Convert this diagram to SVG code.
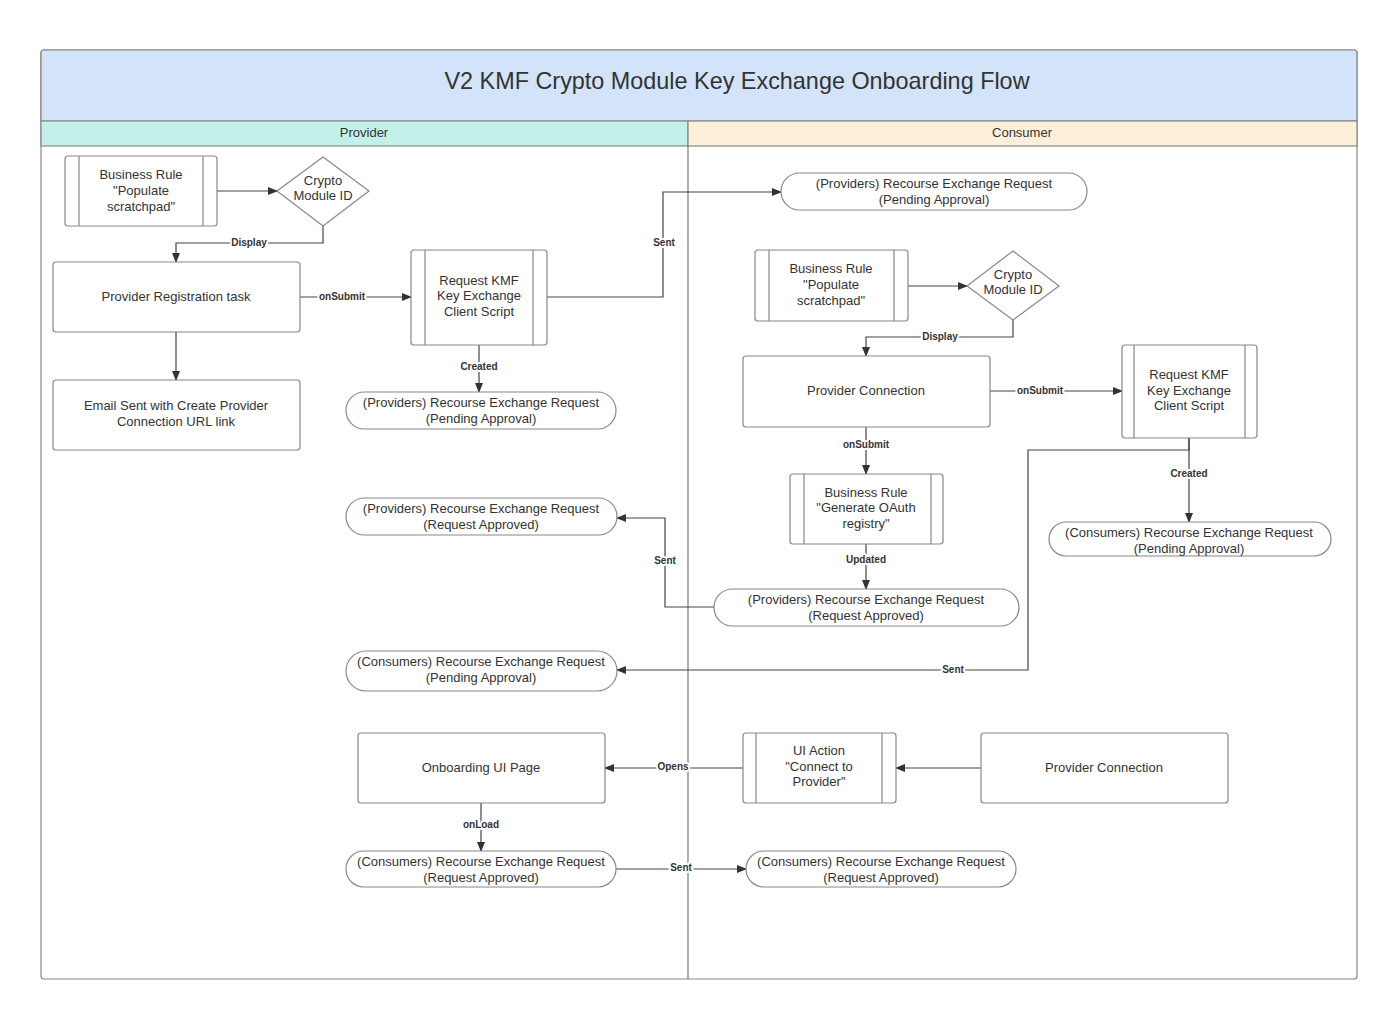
<svg xmlns="http://www.w3.org/2000/svg" width="1400" height="1016" viewBox="0 0 1400 1016">
<defs>
<marker id="ah" markerWidth="10" markerHeight="8" refX="9" refY="4" orient="auto" markerUnits="userSpaceOnUse">
<path d="M0,0 L10,4 L0,8 Z" fill="#333"/>
</marker>
<style>
.n{fill:#fff;stroke:#888;stroke-width:1.2}
.in{stroke:#888;stroke-width:1.2;fill:none}
.t{font-family:"Liberation Sans",Arial,sans-serif;font-size:13px;fill:#333;text-anchor:middle}
.c{fill:none;stroke:#444;stroke-width:1.2}
.ca{fill:none;stroke:#444;stroke-width:1.2;marker-end:url(#ah)}
.l{font-family:"Liberation Sans",Arial,sans-serif;font-size:10px;font-weight:bold;fill:#333;text-anchor:middle;stroke:#fff;stroke-width:4px;paint-order:stroke;stroke-linejoin:round}
</style>
</defs>
<rect width="1400" height="1016" fill="#fff"/>
<g id="frame">
<rect x="41" y="50" width="1316" height="929" rx="3" fill="#fff" stroke="#888" stroke-width="1.2"/>
<path d="M44,50 H1354 a3,3 0 0 1 3,3 V121 H41 V53 a3,3 0 0 1 3,-3 Z" fill="#d3e3f9" stroke="#888" stroke-width="1.2"/>
<rect x="41" y="121" width="647" height="25" fill="#c4f0ea" stroke="#888" stroke-width="1.2"/>
<rect x="688" y="121" width="669" height="25" fill="#fdefd9" stroke="#888" stroke-width="1.2"/>
<line x1="688" y1="146" x2="688" y2="979" stroke="#777" stroke-width="1.2"/>
<text x="737" y="89" font-family="Liberation Sans,Arial,sans-serif" font-size="23.4" fill="#333" text-anchor="middle">V2 KMF Crypto Module Key Exchange Onboarding Flow</text>
<text class="t" x="364" y="137">Provider</text>
<text class="t" x="1022" y="137">Consumer</text>
</g>
<g id="connectors">
<path class="ca" d="M217,191 H277"/>
<path class="ca" d="M323,226 V243 H176 V262"/>
<path class="ca" d="M176,332 V380"/>
<path class="ca" d="M300,297 H411"/>
<path class="ca" d="M479,345 V392"/>
<path class="ca" d="M547,297 H663 V192 H781"/>
<path class="ca" d="M908,286 H967"/>
<path class="ca" d="M1013,320 V337 H866 V356"/>
<path class="ca" d="M990,391 H1122"/>
<path class="ca" d="M866,427 V474"/>
<path class="ca" d="M866,544 V589"/>
<path class="ca" d="M1189,438 V522"/>
<path class="ca" d="M1189,438 V450 H1028 V670 H617"/>
<path class="ca" d="M714,607 H665 V518 H617"/>
<path class="ca" d="M743,768 H605"/>
<path class="ca" d="M981,768 H896"/>
<path class="ca" d="M481,803 V851"/>
<path class="ca" d="M616,869 H746"/>
<text class="l" x="249" y="246">Display</text>
<text class="l" x="342" y="300">onSubmit</text>
<text class="l" x="479" y="370">Created</text>
<text class="l" x="664" y="246">Sent</text>
<text class="l" x="940" y="340">Display</text>
<text class="l" x="1040" y="394">onSubmit</text>
<text class="l" x="866" y="448">onSubmit</text>
<text class="l" x="866" y="563">Updated</text>
<text class="l" x="1189" y="477">Created</text>
<text class="l" x="665" y="564">Sent</text>
<text class="l" x="953" y="673">Sent</text>
<text class="l" x="673" y="770">Opens</text>
<text class="l" x="481" y="828">onLoad</text>
<text class="l" x="681" y="871">Sent</text>
</g>
<g id="br-populate-provider">
<rect class="n" x="65" y="156" width="152" height="70" rx="3"/>
<path class="in" d="M79,156 V226 M203,156 V226"/>
<text class="t" x="141" y="179">Business Rule</text>
<text class="t" x="141" y="195">"Populate</text>
<text class="t" x="141" y="211">scratchpad"</text>
</g>
<g id="crypto-provider">
<path class="n" d="M323,157 L369,191 L323,226 L277,191 Z"/>
<text class="t" x="323" y="185">Crypto</text>
<text class="t" x="323" y="200">Module ID</text>
</g>
<g id="provider-registration">
<rect class="n" x="53" y="262" width="247" height="70" rx="3"/>
<text class="t" x="176" y="301">Provider Registration task</text>
</g>
<g id="email-sent">
<rect class="n" x="53" y="380" width="247" height="70" rx="3"/>
<text class="t" x="176" y="410">Email Sent with Create Provider</text>
<text class="t" x="176" y="426">Connection URL link</text>
</g>
<g id="request-kmf-provider">
<rect class="n" x="411" y="250" width="136" height="95" rx="3"/>
<path class="in" d="M425,250 V345 M533,250 V345"/>
<text class="t" x="479" y="285">Request KMF</text>
<text class="t" x="479" y="300">Key Exchange</text>
<text class="t" x="479" y="316">Client Script</text>
</g>
<g id="prov-rer-pending-p">
<rect class="n" x="346" y="392" width="270" height="37" rx="18.5"/>
<text class="t" x="481" y="407">(Providers) Recourse Exchange Request</text>
<text class="t" x="481" y="423">(Pending Approval)</text>
</g>
<g id="prov-rer-pending-c">
<rect class="n" x="781" y="173" width="306" height="37" rx="18.5"/>
<text class="t" x="934" y="188">(Providers) Recourse Exchange Request</text>
<text class="t" x="934" y="204">(Pending Approval)</text>
</g>
<g id="br-populate-consumer">
<rect class="n" x="755" y="250" width="153" height="71" rx="3"/>
<path class="in" d="M769,250 V321 M894,250 V321"/>
<text class="t" x="831" y="273">Business Rule</text>
<text class="t" x="831" y="289">"Populate</text>
<text class="t" x="831" y="305">scratchpad"</text>
</g>
<g id="crypto-consumer">
<path class="n" d="M1013,251 L1059,286 L1013,320 L967,286 Z"/>
<text class="t" x="1013" y="279">Crypto</text>
<text class="t" x="1013" y="294">Module ID</text>
</g>
<g id="provider-connection-1">
<rect class="n" x="743" y="356" width="247" height="71" rx="3"/>
<text class="t" x="866" y="395">Provider Connection</text>
</g>
<g id="request-kmf-consumer">
<rect class="n" x="1122" y="345" width="135" height="93" rx="3"/>
<path class="in" d="M1134,345 V438 M1245,345 V438"/>
<text class="t" x="1189" y="379">Request KMF</text>
<text class="t" x="1189" y="395">Key Exchange</text>
<text class="t" x="1189" y="410">Client Script</text>
</g>
<g id="br-oauth">
<rect class="n" x="790" y="474" width="153" height="70" rx="3"/>
<path class="in" d="M804,474 V544 M931,474 V544"/>
<text class="t" x="866" y="497">Business Rule</text>
<text class="t" x="866" y="512">"Generate OAuth</text>
<text class="t" x="866" y="528">registry"</text>
</g>
<g id="prov-rer-approved-c">
<rect class="n" x="714" y="589" width="305" height="37" rx="18.5"/>
<text class="t" x="866" y="604">(Providers) Recourse Exchange Request</text>
<text class="t" x="866" y="620">(Request Approved)</text>
</g>
<g id="cons-rer-pending-c">
<rect class="n" x="1049" y="522" width="282" height="34" rx="17"/>
<text class="t" x="1189" y="537">(Consumers) Recourse Exchange Request</text>
<text class="t" x="1189" y="553">(Pending Approval)</text>
</g>
<g id="prov-rer-approved-p">
<rect class="n" x="346" y="498" width="271" height="37" rx="18.5"/>
<text class="t" x="481" y="513">(Providers) Recourse Exchange Request</text>
<text class="t" x="481" y="529">(Request Approved)</text>
</g>
<g id="cons-rer-pending-p">
<rect class="n" x="346" y="651" width="271" height="40" rx="20"/>
<text class="t" x="481" y="666">(Consumers) Recourse Exchange Request</text>
<text class="t" x="481" y="682">(Pending Approval)</text>
</g>
<g id="onboarding-ui">
<rect class="n" x="358" y="733" width="247" height="70" rx="3"/>
<text class="t" x="481" y="772">Onboarding UI Page</text>
</g>
<g id="ui-action">
<rect class="n" x="743" y="733" width="153" height="70" rx="3"/>
<path class="in" d="M756,733 V803 M882,733 V803"/>
<text class="t" x="819" y="755">UI Action</text>
<text class="t" x="819" y="771">"Connect to</text>
<text class="t" x="819" y="786">Provider"</text>
</g>
<g id="provider-connection-2">
<rect class="n" x="981" y="733" width="247" height="70" rx="3"/>
<text class="t" x="1104" y="772">Provider Connection</text>
</g>
<g id="cons-rer-approved-p">
<rect class="n" x="346" y="851" width="270" height="36" rx="18"/>
<text class="t" x="481" y="866">(Consumers) Recourse Exchange Request</text>
<text class="t" x="481" y="882">(Request Approved)</text>
</g>
<g id="cons-rer-approved-c">
<rect class="n" x="746" y="851" width="270" height="36" rx="18"/>
<text class="t" x="881" y="866">(Consumers) Recourse Exchange Request</text>
<text class="t" x="881" y="882">(Request Approved)</text>
</g>
</svg>
